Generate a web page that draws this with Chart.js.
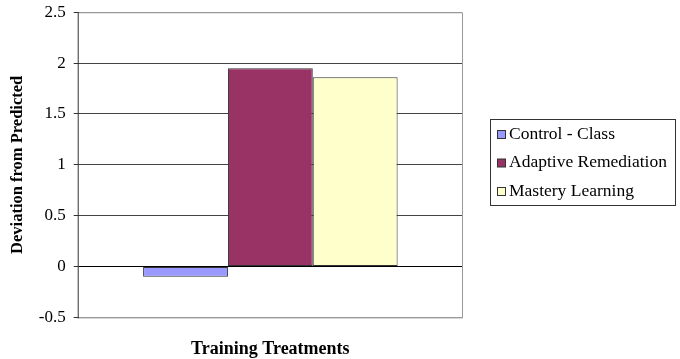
<!DOCTYPE html>
<html><head><meta charset="utf-8">
<script src="https://cdn.jsdelivr.net/npm/chart.js@4/dist/chart.umd.min.js"></script>
<style>html,body{margin:0;padding:0;background:#fff}#wrap{width:680px;height:359px}</style>
</head><body><div id="wrap"><canvas id="c" width="680" height="359"></canvas></div>
<script>
const categories = [""];
const seriesNames = ["Control - Class", "Adaptive Remediation", "Mastery Learning"];
const controlValues = [-0.1];
const adaptiveValues = [1.95];
const masteryValues = [1.86];
const seriesColors = ["#9999FF", "#993366", "#FFFFCC"];
const yTicks = [-0.5, 0, 0.5, 1, 1.5, 2, 2.5];

const legendPlugin = {
  id: 'boxLegend',
  afterDraw(chart) {
    const ctx = chart.ctx;
    const a = chart.chartArea;
    ctx.save();
    ctx.strokeStyle = '#999';
    ctx.lineWidth = 1;
    ctx.beginPath();
    ctx.moveTo(a.left, a.top + 0.5); ctx.lineTo(a.right + 0.5, a.top + 0.5);
    ctx.lineTo(a.right + 0.5, a.bottom + 0.5); ctx.lineTo(a.left, a.bottom + 0.5);
    ctx.stroke();
    ctx.strokeStyle = '#333';
    ctx.beginPath();
    ctx.moveTo(a.left - 0.5, a.top); ctx.lineTo(a.left - 0.5, a.bottom + 1);
    ctx.stroke();
    const bx = 490, by = 119, bw = 185, bh = 86;
    ctx.strokeStyle = '#333';
    ctx.strokeRect(bx + 0.5, by + 0.5, bw, bh);
    ctx.font = '17.5px "Liberation Serif", "Times New Roman", serif';
    ctx.textBaseline = 'middle';
    chart.data.datasets.forEach((ds, i) => {
      const cy = 134 + i * 28.5;
      ctx.fillStyle = ds.backgroundColor;
      ctx.fillRect(497.5, cy - 3.5, 8, 8);
      ctx.strokeStyle = '#333';
      ctx.strokeRect(497.5, cy - 3.5, 8, 8);
      ctx.fillStyle = '#000';
      ctx.fillText(ds.label, 509, cy);
    });
    ctx.restore();
  }
};

new Chart(document.getElementById('c'), {
  type: 'bar',
  data: {
    labels: categories,
    datasets: [
      { label: seriesNames[0], data: controlValues, backgroundColor: seriesColors[0] },
      { label: seriesNames[1], data: adaptiveValues, backgroundColor: seriesColors[1] },
      { label: seriesNames[2], data: masteryValues, backgroundColor: seriesColors[2] }
    ].map(d => Object.assign(d, { borderColor: '#333', borderWidth: 1, borderSkipped: false }))
  },
  options: {
    responsive: false,
    animation: false,
    events: [],
    layout: { padding: { left: 8, right: 218, top: 10, bottom: 0 } },
    categoryPercentage: 0.664,
    barPercentage: 1,
    plugins: { legend: { display: false }, tooltip: { enabled: false } },
    scales: {
      x: {
        grid: { display: false },
        border: { display: false },
        ticks: { display: false },
        title: { display: true, text: 'Training Treatments', color: '#000',
          font: { family: '"Liberation Serif", "Times New Roman", serif', size: 18, weight: 'bold' },
          padding: { top: 13, bottom: -1 } }
      },
      y: {
        min: -0.5, max: 2.5,
        afterBuildTicks(scale) { scale.ticks = yTicks.map(v => ({ value: v })); },
        border: { display: false },
        grid: {
          color: ctx => (ctx.tick && ctx.tick.value === 0) ? '#000' : ((ctx.tick && (ctx.tick.value === 2.5 || ctx.tick.value === -0.5)) ? '#999' : '#444'),
          tickColor: '#333',
          tickLength: 5,
          lineWidth: 1
        },
        ticks: { color: '#000', padding: 8,
          font: { family: '"Liberation Serif", "Times New Roman", serif', size: 17, lineHeight: 0.5 },
          callback: v => String(v) },
        title: { display: true, text: 'Deviation from Predicted', color: '#000',
          font: { family: '"Liberation Serif", "Times New Roman", serif', size: 16.5, weight: 'bold' },
          padding: { top: 0, bottom: 3 } }
      }
    }
  },
  plugins: [legendPlugin]
});
</script></body></html>
